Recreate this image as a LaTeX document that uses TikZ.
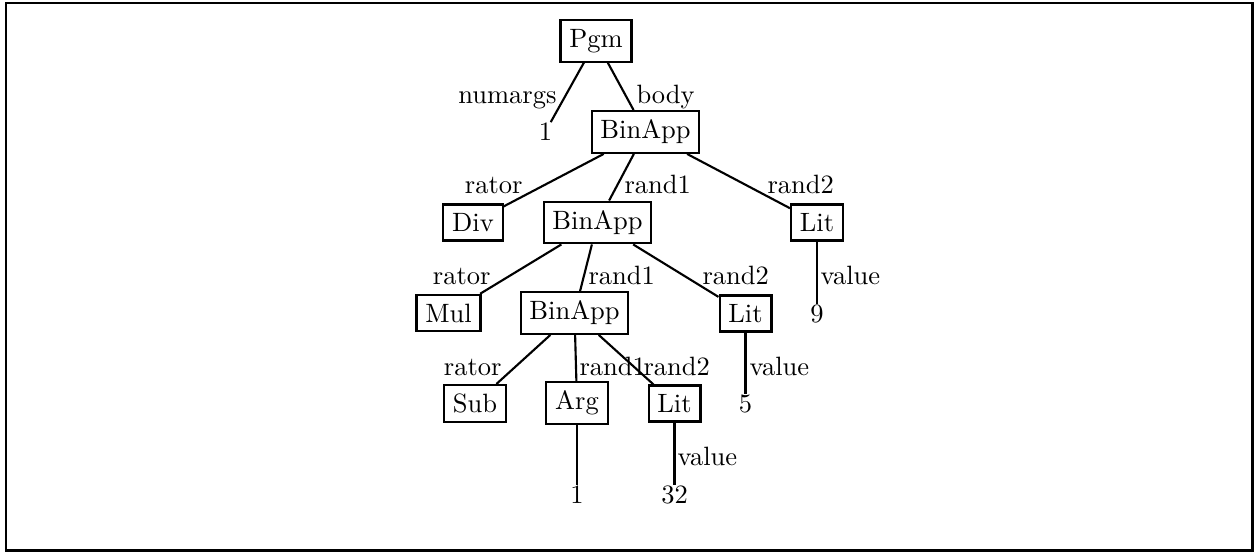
\documentclass[tikz,border=0pt]{standalone}
\begin{document}
\begin{tikzpicture}[x=0.3774pt,y=-0.3774pt,
  box/.style={draw,line width=0.8pt,inner sep=3.33pt},
  leaf/.style={inner sep=0pt},
  lbl/.style={inner sep=0pt},
  conn/.style={line width=0.8pt}]
\useasboundingbox (0,0) rectangle (1254,552);
\draw[line width=0.85pt] (6.2,3.3) rectangle (1252.5,550.5);
% nodes
\node[box] (pgm) at (596,41) {Pgm};
\node[leaf] (na) at (545.5,131.5) {1};
\node[box] (b1) at (645.5,132) {BinApp};
\node[box] (div) at (473,222.5) {Div};
\node[box] (b2) at (597.5,222.5) {BinApp};
\node[box] (lit9) at (817,222.5) {Lit};
\node[leaf] (v9) at (817,313.5) {9};
\node[box] (mul) at (448.5,313) {Mul};
\node[box] (b3) at (574.5,313) {BinApp};
\node[box] (lit5) at (745.5,313.5) {Lit};
\node[leaf] (v5) at (745.5,403.5) {5};
\node[box] (sub) at (475,403.5) {Sub};
\node[box] (arg) at (577,403) {Arg};
\node[box] (lit32) at (674.5,403.5) {Lit};
\node[leaf] (a1) at (577,494.5) {1};
\node[leaf] (v32) at (674.5,494.5) {32};
% connectors
\draw[conn] (pgm) -- (na);
\draw[conn] (pgm) -- (b1);
\draw[conn] (b1) -- (div);
\draw[conn] (b1) -- (b2);
\draw[conn] (b1) -- (lit9);
\draw[conn] (lit9) -- (v9);
\draw[conn] (b2) -- (mul);
\draw[conn] (b2) -- (b3);
\draw[conn] (b2) -- (lit5);
\draw[conn] (lit5) -- (v5);
\draw[conn] (b3) -- (sub);
\draw[conn] (b3) -- (arg);
\draw[conn] (b3) -- (lit32);
\draw[conn] (arg) -- (a1);
\draw[conn] (lit32) -- (v32);
% labels
\node[lbl,anchor=base east] (l1) at (557,104) {numargs};
\node[lbl,anchor=base west] (l2) at (636,104) {body};
\node[lbl,anchor=base east] (l3) at (523,194) {rator};
\node[lbl,anchor=base west] (l4) at (624,194) {rand1};
\node[lbl,anchor=base west] (l5) at (767,194) {rand2};
\node[lbl,anchor=base west] (l6) at (820,285) {value};
\node[lbl,anchor=base east] (l7) at (491,285) {rator};
\node[lbl,anchor=base west] (l8) at (588,285) {rand1};
\node[lbl,anchor=base west] (l9) at (702,285) {rand2};
\node[lbl,anchor=base west] (l10) at (749,376) {value};
\node[lbl,anchor=base east] (l11) at (502,376) {rator};
\node[lbl,anchor=base west] (l12) at (579,376) {rand1};
\node[lbl,anchor=base west] (l13) at (643,376) {rand2};
\node[lbl,anchor=base west] (l14) at (677,466) {value};
\end{tikzpicture}
\end{document}
